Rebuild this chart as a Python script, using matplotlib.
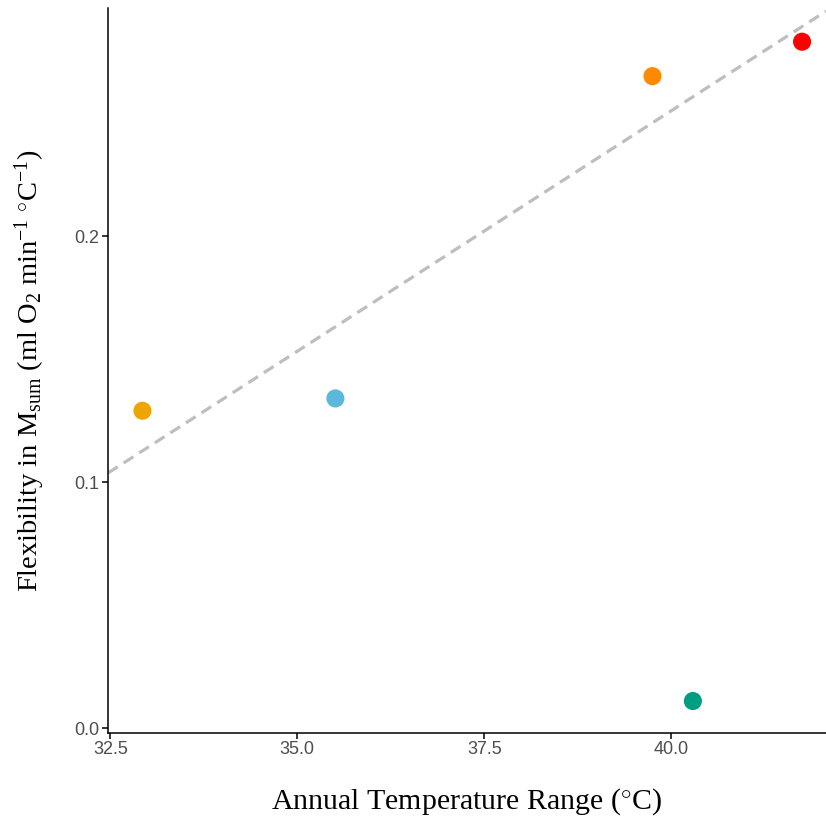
import numpy as np
import matplotlib
matplotlib.use("Agg")
import matplotlib.pyplot as plt

# values
temp_range = [32.93, 35.51, 39.75, 40.29, 41.75]
flexibility = [0.129, 0.134, 0.265, 0.011, 0.279]
colors = ["#EFA500", "#5BB8DA", "#FF8A00", "#009E80", "#FF0000"]
in_fit = [True, True, True, False, True]   # dashed fit ignores the low point

xticks = [32.5, 35.0, 37.5, 40.0]
yticks = [0.0, 0.1, 0.2]

plt.rcParams["mathtext.fontset"] = "custom"
plt.rcParams["mathtext.rm"] = "Liberation Serif"
plt.rcParams["mathtext.it"] = "Liberation Serif:italic"

fig = plt.figure(figsize=(8.26, 8.25), dpi=100)
ax = fig.add_axes([0.1308, 0.1115, 0.8692, 0.8788])

xlim = (32.47, 42.07); ylim = (-0.002, 0.2927)

xs = np.array(temp_range); ys = np.array(flexibility); m = np.array(in_fit)
k, b = np.polyfit(xs[m], ys[m], 1)
lx = np.array(xlim)
ax.plot(lx, k*lx + b, color="#BEBEBE", lw=2.3, dashes=(3.6, 2.2), zorder=1)

ax.scatter(xs, ys, s=170, c=colors, edgecolors="none", zorder=2)

ax.set_xlim(*xlim); ax.set_ylim(*ylim)
ax.set_xticks(xticks); ax.set_xticklabels([f"{v:.1f}" for v in xticks])
ax.set_yticks(yticks); ax.set_yticklabels([f"{v:.1f}" for v in yticks])
for s in ["top", "right"]:
    ax.spines[s].set_visible(False)
for s in ["left", "bottom"]:
    ax.spines[s].set_linewidth(1.1); ax.spines[s].set_color("black")
ax.tick_params(length=4, width=1.1, color="black", labelcolor="#4D4D4D",
               labelsize=13, pad=2)
for t in ax.get_xticklabels() + ax.get_yticklabels():
    t.set_family("Liberation Sans")

ax.set_xlabel(r"Annual Temperature Range ($^{\circ}$C)", family="Liberation Serif",
              fontsize=21.5, labelpad=20)
ax.set_ylabel(r"Flexibility in M$_{\mathrm{sum}}$ (ml O$_{2}$ min$^{\mathrm{-1}}$ $^{\circ}$C$^{\mathrm{-1}}$)",
              family="Liberation Serif", fontsize=20.5, labelpad=20)

fig.savefig("out.png", dpi=100)
